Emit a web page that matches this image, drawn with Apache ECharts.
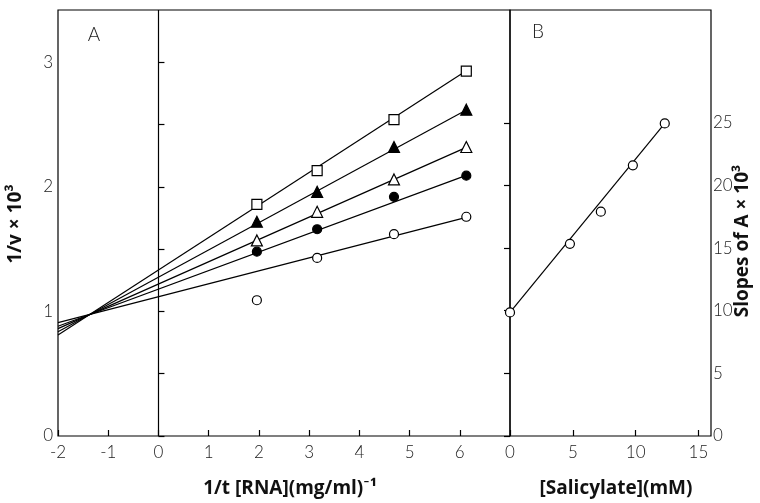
<!DOCTYPE html>
<html>
<head>
<meta charset="utf-8">
<script src="https://cdn.jsdelivr.net/npm/echarts@6/dist/echarts.min.js"></script>
<style>
  html, body { margin: 0; padding: 0; background: #fff; }
  #chart { width: 760px; height: 503px; }
</style>
</head>
<body>
<div id="chart"></div>
<script>
// panel A: 1/v vs 1/[RNA], one series per salicylate level
const xA = [1.96, 3.16, 4.69, 6.13];
const ySquare = [1.86, 2.13, 2.54, 2.93];
const yTriFilled = [1.72, 1.96, 2.32, 2.62];
const yTriOpen = [1.57, 1.80, 2.06, 2.32];
const yDotFilled = [1.48, 1.66, 1.92, 2.09];
const yDotOpen = [1.09, 1.43, 1.62, 1.76];
// fitted lines (value at x = 0, slope); open-circle point at x~2 left out
const fitIntercepts = [1.332, 1.275, 1.220, 1.179, 1.118];
const fitSlopes = [0.261, 0.219, 0.179, 0.149, 0.104];
const fitFrom = -2;

// panel B: slopes of A vs salicylate
const xB = [0, 4.77, 7.23, 9.78, 12.32];
const yB = [9.86, 15.34, 17.9, 21.6, 24.95];
const fitB = { intercept: 9.86, slope: 1.225 };

// ticks and labels
const xTicksA = [-2, -1, 0, 1, 2, 3, 4, 5, 6];
const yTicksA = [0, 0.5, 1, 1.5, 2, 2.5, 3];
const yLabelsA = [0, 1, 2, 3];
const xTicksB = [0, 5, 10, 15];
const yTicksB = [0, 5, 10, 15, 20, 25];

const chart = echarts.init(document.getElementById("chart"), null, { renderer: "canvas" });

const tickFont = { color: "#222", fontSize: 17, fontFamily: "Lato, 'DejaVu Sans', sans-serif", fontWeight: 300 };
const nameFont = "bold 19px 'Open Sans', Lato, sans-serif";

const ySets = [ySquare, yTriFilled, yTriOpen, yDotFilled, yDotOpen];
const markers = [
  { symbol: "rect", size: 10, fill: "#fff" },
  { symbol: "triangle", size: 11, fill: "#000" },
  { symbol: "triangle", size: 11, fill: "#fff" },
  { symbol: "circle", size: 9, fill: "#000" },
  { symbol: "circle", size: 9, fill: "#fff" },
];

const series = [];
ySets.forEach((ys, i) => {
  const b = fitIntercepts[i], m = fitSlopes[i];
  const xEnd = xA[xA.length - 1];
  series.push({
    type: "line",
    xAxisIndex: 0, yAxisIndex: 0,
    data: [[fitFrom, b + m * fitFrom], [xEnd, b + m * xEnd]],
    showSymbol: false,
    lineStyle: { color: "#000", width: 1.2 },
    silent: true, z: 2,
    markLine: i === 0 ? {
      silent: true, symbol: ["none", "none"], label: { show: false },
      lineStyle: { color: "#000", width: 1.2, type: "solid" },
      data: [{ xAxis: 0 }],
    } : undefined,
  });
  series.push({
    type: "scatter",
    xAxisIndex: 0, yAxisIndex: 0,
    data: xA.map((x, j) => [x, ys[j]]),
    symbol: markers[i].symbol,
    symbolSize: markers[i].size,
    itemStyle: { color: markers[i].fill, borderColor: "#000", borderWidth: 1.2, opacity: 1 },
    z: 5,
  });
});

const xEndB = xB[xB.length - 1];
series.push({
  type: "line",
  xAxisIndex: 1, yAxisIndex: 1,
  data: [[xB[0], fitB.intercept + fitB.slope * xB[0]], [xEndB, fitB.intercept + fitB.slope * xEndB]],
  showSymbol: false,
  lineStyle: { color: "#000", width: 1.2 },
  silent: true, z: 2,
});
series.push({
  type: "scatter",
  xAxisIndex: 1, yAxisIndex: 1,
  data: xB.map((x, j) => [x, yB[j]]),
  symbol: "circle",
  symbolSize: 9,
  itemStyle: { color: "#fff", borderColor: "#000", borderWidth: 1.2, opacity: 1 },
  z: 5,
});

const frame = { show: true, borderColor: "#000", borderWidth: 1.2, backgroundColor: "transparent" };
const noLine = { show: false };
const tick = (vals) => ({ show: true, inside: true, length: 6, customValues: vals, lineStyle: { color: "#000", width: 1.2 } });

chart.setOption({
  animation: false,
  grid: [
    Object.assign({ left: 58, top: 10, width: 452, height: 426 }, frame),
    Object.assign({ left: 510, top: 10, width: 201, height: 426 }, frame),
  ],
  xAxis: [
    {
      type: "value", gridIndex: 0, min: -2, max: 7,
      axisLine: noLine, splitLine: noLine,
      axisTick: tick(xTicksA),
      axisLabel: Object.assign({ customValues: xTicksA, margin: 8 }, tickFont),
    },
    {
      type: "value", gridIndex: 1, min: 0, max: 16,
      axisLine: noLine, splitLine: noLine,
      axisTick: tick(xTicksB),
      axisLabel: Object.assign({ customValues: xTicksB, margin: 8 }, tickFont),
    },
  ],
  yAxis: [
    {
      type: "value", gridIndex: 0, min: 0, max: 3.42,
      axisLine: noLine, splitLine: noLine,
      axisTick: tick(yTicksA),
      axisLabel: Object.assign({ customValues: yLabelsA, margin: 5 }, tickFont),
    },
    {
      type: "value", gridIndex: 1, position: "right", min: 0, max: 34,
      axisLine: noLine, splitLine: noLine,
      axisTick: tick(yTicksB),
      axisLabel: Object.assign({ customValues: yTicksB, margin: 2 }, tickFont),
    },
  ],
  graphic: [
    { type: "text", x: 94, y: 35, style: { text: "A", font: "300 19px Lato, sans-serif", fill: "#222", align: "center", verticalAlign: "middle" } },
    { type: "text", x: 538, y: 32, style: { text: "B", font: "300 19px Lato, sans-serif", fill: "#222", align: "center", verticalAlign: "middle" } },
    { type: "text", x: 290, y: 489, style: { text: "1/t [RNA](mg/ml)⁻¹", font: nameFont, fill: "#111", align: "center", verticalAlign: "middle" } },
    { type: "text", x: 616, y: 489, style: { text: "[Salicylate](mM)", font: nameFont, fill: "#111", align: "center", verticalAlign: "middle" } },
    { type: "text", x: 16, y: 224, rotation: Math.PI / 2, style: { text: "1/v × 10³", font: nameFont, fill: "#111", align: "center", verticalAlign: "middle" } },
    { type: "text", x: 743, y: 241, rotation: Math.PI / 2, style: { text: "Slopes of A × 10³", font: nameFont, fill: "#111", align: "center", verticalAlign: "middle" } },
  ],
  series: series,
});
</script>
</body>
</html>
